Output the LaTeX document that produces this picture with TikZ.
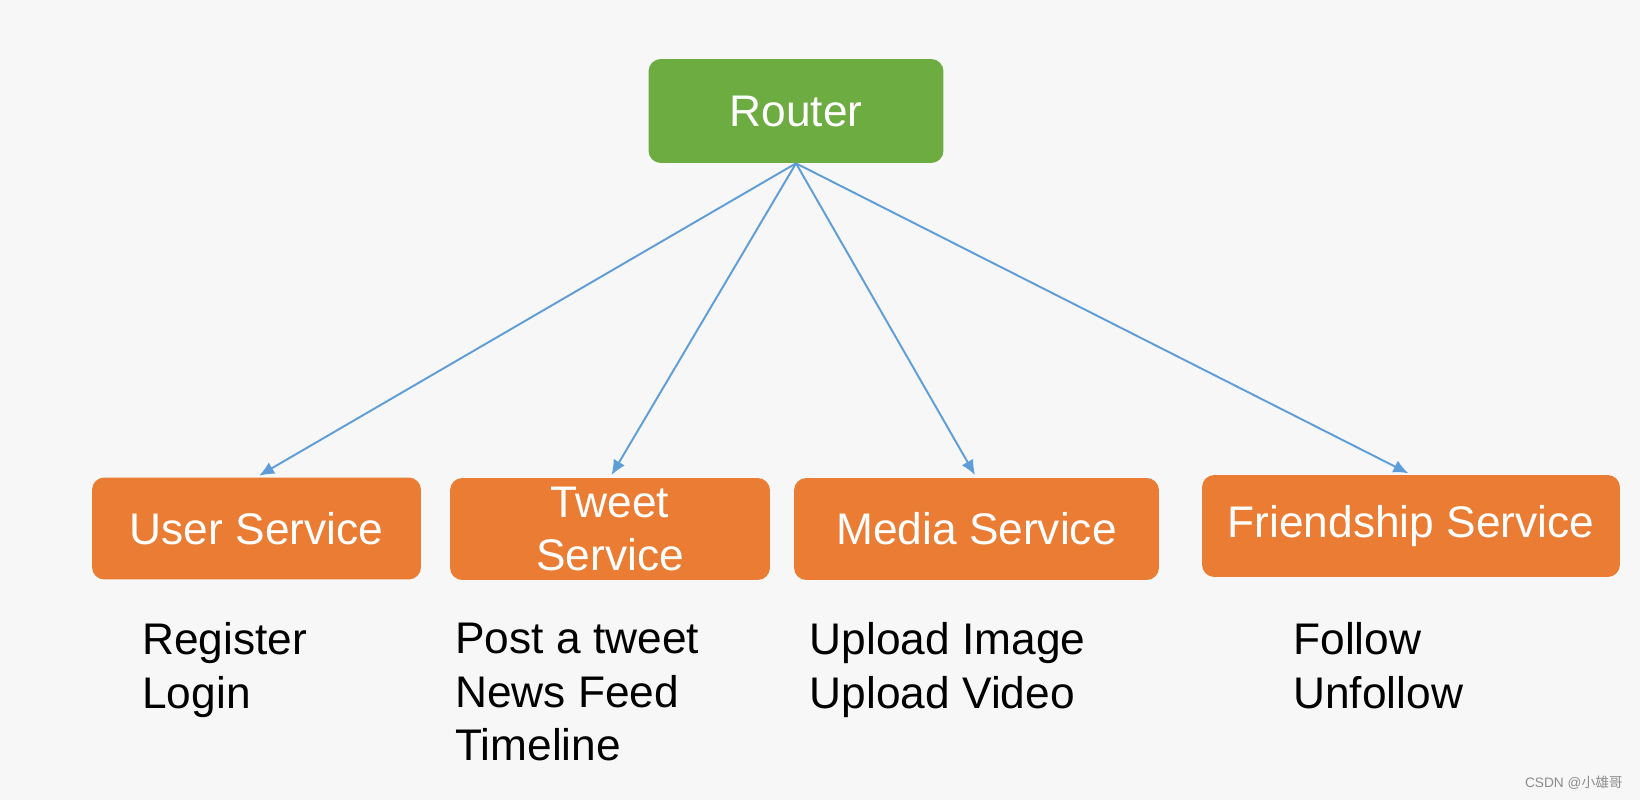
\documentclass[tikz,border=0pt]{standalone}
\usepackage{fontspec}
\setmainfont{Liberation Sans}
\newfontfamily\cjk{Noto Sans CJK SC}
\usetikzlibrary{arrows.meta}
\definecolor{Leaf}{HTML}{6CAC41}
\definecolor{Tang}{HTML}{EA7C33}
\definecolor{Sky}{HTML}{5E9DD8}
\definecolor{Paper}{HTML}{F7F7F7}
\definecolor{Ash}{HTML}{8C8C8C}

\begin{document}
\begin{tikzpicture}[x=.02cm,y=-.02cm,
    box/.style={rounded corners=7pt,minimum height=2.04cm,inner sep=0pt,align=center,text=white,font=\fontsize{25.2}{30.6}\selectfont},
    svc/.style={box,fill=Tang},
    arr/.style={-{Latex[length=8.5pt,width=7.5pt]},line width=1.1pt,draw=Sky,shorten >=1.7pt},
    list/.style={anchor=north west,inner sep=0pt,align=left,font=\fontsize{25.2}{30.6}\selectfont}
  ]
    \fill[Paper] (0,0) rectangle (1640,800);
    \useasboundingbox (0,0) rectangle (1640,800);
    \node[box,fill=Leaf,minimum width=5.9cm,minimum height=2.08cm] (r) at (796,111) {Router};
    \node[svc,minimum width=6.58cm] (s1) at (256.5,528.5) {User Service};
    \node[svc,minimum width=6.4cm] (s2) at (610,529) {Tweet\\Service};
    \node[svc,minimum width=7.3cm] (s3) at (976.5,529) {Media Service};
    \node[svc,minimum width=8.36cm] (s4) at (1411,526) {Friendship Service};
    \draw[arr] (r.south) -- (s1.north);
    \draw[arr] (r.south) -- (s2.north);
    \draw[arr] (r.south) -- (s3.north);
    \draw[arr] (r.south) -- (s4.north);
    \node[list] (t1) at (142,622.5) {Register\\Login};
    \node[list] (t2) at (455,622.5) {Post a tweet\\News Feed\\Timeline};
    \node[list] (t3) at (809.5,622.5) {Upload Image\\Upload Video};
    \node[list] (t4) at (1293,622.5) {Follow\\Unfollow};
    \node[anchor=east,inner sep=0pt,text=Ash,font=\fontsize{7.8}{9}\selectfont] (wm) at (1623,783) {CSDN @{\cjk 小雄哥}};
  \end{tikzpicture}
\end{document}
